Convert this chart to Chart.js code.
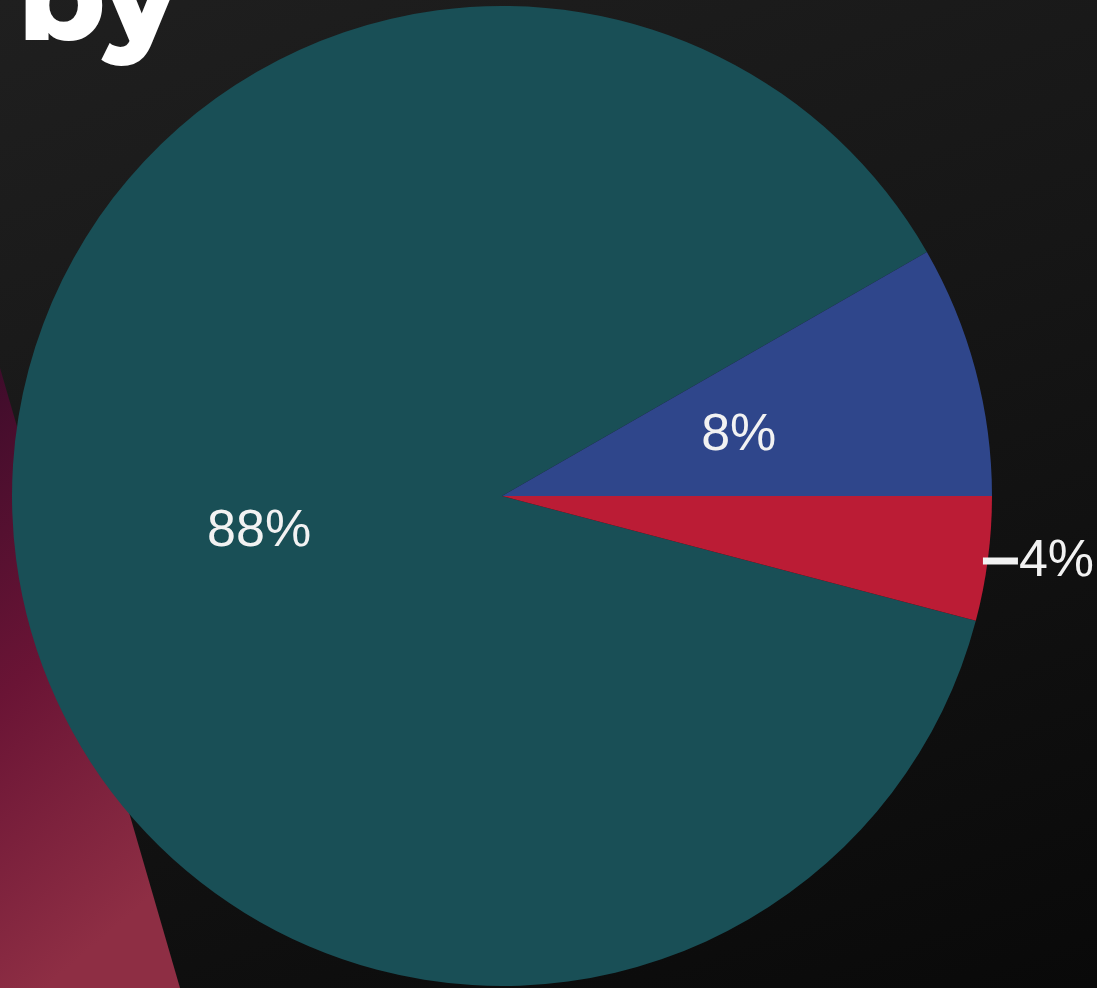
<!DOCTYPE html>
<html>
<head>
<meta charset="utf-8">
<script src="https://cdn.jsdelivr.net/npm/chart.js@4.4.1/dist/chart.umd.min.js"></script>
<style>
  html, body { margin: 0; padding: 0; width: 1097px; height: 988px; overflow: hidden; }
  body { position: relative; background: linear-gradient(160deg, #1f1f1f 0%, #161616 45%, #090909 100%); }
  #deco { position: absolute; left: 0; top: 0; width: 1097px; height: 988px; }
  #by { position: absolute; left: 18px; top: -68px; font-family: "Montserrat", "Lato", "Open Sans", sans-serif; font-weight: 800; font-size: 126px; color: #ffffff; line-height: 1; letter-spacing: -2px; }
  #wrap { position: absolute; left: 0; top: 0; width: 1097px; height: 988px; }
</style>
</head>
<body>
<svg id="deco" width="1097" height="988">
  <defs>
    <linearGradient id="mg" x1="0" y1="0" x2="0.25" y2="1">
      <stop offset="0" stop-color="#3f0c2b"/>
      <stop offset="0.5" stop-color="#6a1435"/>
      <stop offset="1" stop-color="#8e2e44"/>
    </linearGradient>
  </defs>
  <polygon points="0,368 180,988 0,988" fill="url(#mg)"/>
</svg>
<div id="by">by</div>
<div id="wrap"><canvas id="c" width="1097" height="988"></canvas></div>
<script>
const categories = ["Teal", "Blue", "Red"];
const values = [87.6, 8.3, 4.1];
const colors = ["#194f56", "#2f468b", "#bb1c35"];

const total = values.reduce((a, b) => a + b, 0);
const lastShare = values[values.length - 1] / total;

const labelPlugin = {
  id: 'sliceLabels',
  afterDatasetsDraw(chart) {
    const ctx = chart.ctx;
    const meta = chart.getDatasetMeta(0);
    ctx.save();
    ctx.font = '52px "Liberation Sans", Arial, sans-serif';
    ctx.fillStyle = '#f2f2f2';
    ctx.textBaseline = 'middle';
    meta.data.forEach((arc, i) => {
      const v = values[i];
      const txt = Math.round(v / total * 100) + '%';
      const p = arc.getProps(['x', 'y', 'startAngle', 'endAngle', 'outerRadius'], true);
      const mid = (p.startAngle + p.endAngle) / 2;
      if (v / total < 0.05) {
        const ex = p.x + p.outerRadius * Math.cos(mid);
        const ey = p.y + p.outerRadius * Math.sin(mid) + 2;
        ctx.strokeStyle = '#f2f2f2';
        ctx.lineWidth = 7;
        ctx.beginPath();
        ctx.moveTo(ex - 5, ey);
        ctx.lineTo(ex + 30, ey);
        ctx.stroke();
        ctx.textAlign = 'left';
        ctx.fillText(txt, ex + 31, ey + 1);
      } else {
        const c = arc.getCenterPoint();
        ctx.textAlign = 'center';
        ctx.fillText(txt, c.x, c.y + 3);
      }
    });
    ctx.restore();
  }
};

new Chart(document.getElementById('c'), {
  type: 'pie',
  data: {
    labels: categories,
    datasets: [{
      data: values,
      backgroundColor: colors,
      borderWidth: 0
    }]
  },
  options: {
    responsive: false,
    animation: false,
    rotation: 90 + lastShare * 360,
    layout: { padding: { left: 12, right: 105, top: 6, bottom: 2 } },
    plugins: {
      legend: { display: false },
      tooltip: { enabled: false },
      title: { display: false }
    }
  },
  plugins: [labelPlugin]
});
</script>
</body>
</html>
